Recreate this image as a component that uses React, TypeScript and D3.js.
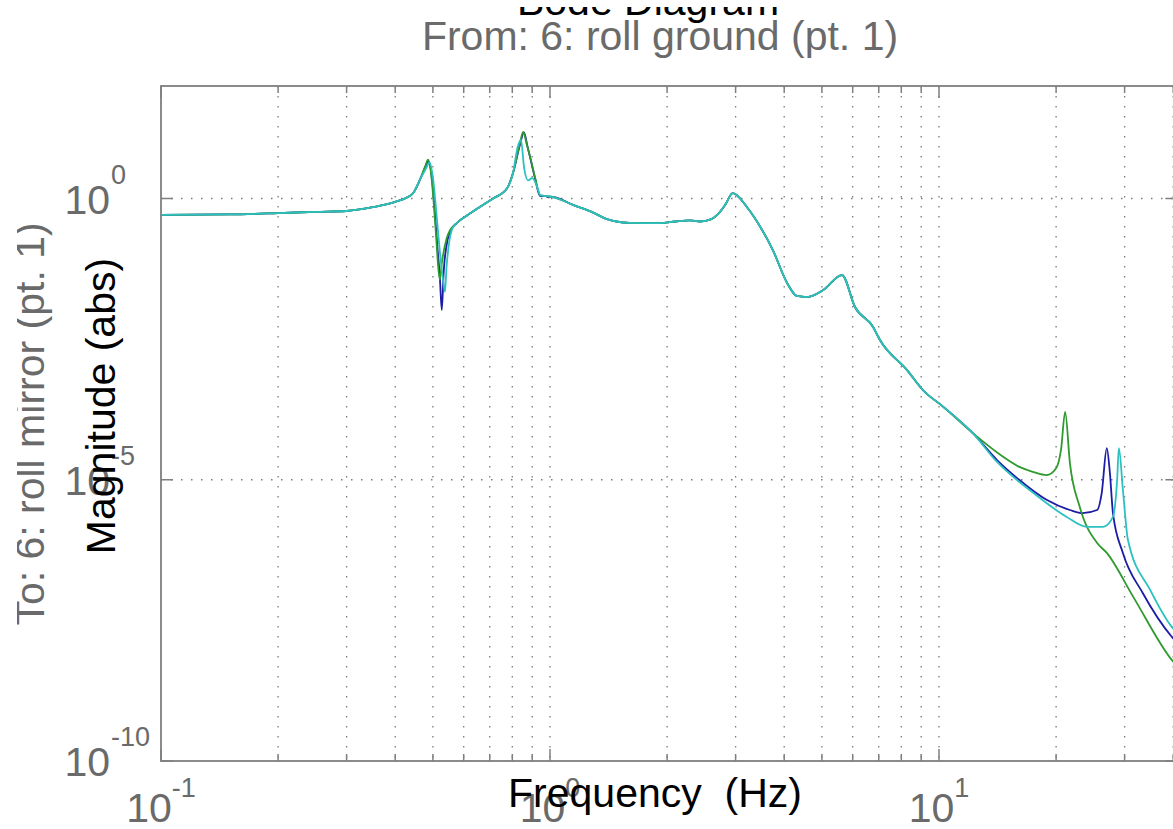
import * as d3 from 'd3';

// axis limits (Hz, abs)
const X_MIN = 0.1;
const X_MAX = 41;
const Y_MIN = 1e-10;
const Y_MAX = 1e2;

const X_TICK_VALUES = [0.1, 1, 10];
const X_TICK_EXP = ['-1', '0', '1'];
const Y_TICK_VALUES = [1e0, 1e-5, 1e-10];
const Y_TICK_EXP = ['0', '-5', '-10'];
const Y_GRID = [1e0, 1e-5];

// [frequency Hz, magnitude]
const LOW: [number, number][] = [
  [0.1, 0.51], [0.15, 0.52], [0.2, 0.55], [0.25, 0.58], [0.3, 0.6], [0.35, 0.7],
  [0.4, 0.87], [0.43, 1.05], [0.445, 1.25], [0.465, 2.3],
];

const GREEN_R1: [number, number][] = [
  [0.478, 3.8], [0.486, 4.9], [0.494, 3.0], [0.502, 0.9], [0.51, 0.2], [0.516, 0.06],
  [0.521, 0.036], [0.527, 0.07], [0.543, 0.2], [0.553, 0.27],
];
const BLUE_R1: [number, number][] = [
  [0.478, 3.6], [0.487, 4.6], [0.496, 2.6], [0.505, 0.7], [0.513, 0.15], [0.521, 0.04],
  [0.527, 0.0104], [0.533, 0.05], [0.545, 0.18], [0.556, 0.27],
];
const CYAN_R1: [number, number][] = [
  [0.48, 3.4], [0.49, 4.4], [0.5, 2.4], [0.51, 0.6], [0.52, 0.13], [0.53, 0.04],
  [0.537, 0.022], [0.542, 0.06], [0.55, 0.16], [0.562, 0.3],
];

const RISE: [number, number][] = [
  [0.577, 0.37], [0.612, 0.5], [0.661, 0.71], [0.714, 1.0], [0.775, 1.5], [0.803, 2.8],
];

const GREEN_R2: [number, number][] = [
  [0.837, 9.6], [0.853, 15.2], [0.872, 9], [0.889, 5.5], [0.915, 2.4], [0.943, 1.15],
  [0.98, 1.1], [1.018, 1.06],
];
const BLUE_R2: [number, number][] = [
  [0.837, 9], [0.857, 15], [0.875, 8.5], [0.89, 5.2], [0.915, 2.3], [0.943, 1.1],
  [0.975, 1.1], [0.99, 1.05], [1.018, 1.06],
];
const CYAN_R2: [number, number][] = [
  [0.825, 8], [0.842, 11], [0.858, 3.5], [0.878, 2.1], [0.9, 2.3], [0.93, 1.5],
  [0.943, 1.15], [0.98, 1.1], [1.018, 1.06],
];

const MID: [number, number][] = [
  [1.146, 0.77], [1.3, 0.55], [1.4, 0.43], [1.6, 0.37], [1.92, 0.365], [2.1, 0.39],
  [2.29, 0.41], [2.43, 0.39], [2.6, 0.43], [2.69, 0.51], [2.82, 0.77], [2.95, 1.25],
  [3.21, 0.7], [3.51, 0.275], [3.74, 0.121], [4.07, 0.0315], [4.31, 0.0185],
  [4.58, 0.0177], [5.04, 0.0236], [5.63, 0.0436], [6.08, 0.0118], [6.77, 0.0052],
  [7.05, 0.00305], [8.28, 8.9e-4], [9.1, 3.9e-4], [10.24, 2e-4], [12.2, 6.8e-5],
];

const GREEN_TAIL: [number, number][] = [
  [14.4, 2.75e-5], [16.1, 1.69e-5], [17.5, 1.37e-5], [18.9, 1.21e-5], [20.0, 1.6e-5],
  [20.6, 3.5e-5], [21.1, 1.6e-4], [21.7, 2e-5], [23.0, 3.3e-6], [25.5, 7.5e-7],
  [27, 5e-7], [31.6, 8.2e-8], [39.7, 6.2e-9], [42, 4e-9],
];
const BLUE_TAIL: [number, number][] = [
  [14.1, 2.24e-5], [16.1, 9.9e-6], [18.9, 4.4e-6], [21.7, 2.9e-6], [23.4, 2.56e-6],
  [25.5, 2.9e-6], [26.2, 5.8e-6], [27.0, 3.66e-5], [27.5, 1.32e-5], [28.0, 2.56e-6],
  [29.7, 5e-7], [33.4, 9.7e-8], [39.7, 1.6e-8], [42, 1.05e-8],
];
const CYAN_TAIL: [number, number][] = [
  [14.1, 2.07e-5], [17.5, 5.8e-6], [21.3, 2.18e-6], [24, 1.45e-6], [26.4, 1.45e-6],
  [28, 2.18e-6], [28.7, 9.9e-6], [29.0, 3.66e-5], [29.7, 6.6e-6], [30.6, 8.5e-7],
  [34.9, 1.1e-7], [39.7, 2.4e-8], [42, 1.6e-8],
];

const SERIES = [
  { name: 'blue', color: '#1c1ca6', pts: [...LOW, ...BLUE_R1, ...RISE, ...BLUE_R2, ...MID, ...BLUE_TAIL] },
  { name: 'green', color: '#2f9a2f', pts: [...LOW, ...GREEN_R1, ...RISE, ...GREEN_R2, ...MID, ...GREEN_TAIL] },
  { name: 'cyan', color: '#2cc0c0', pts: [...LOW, ...CYAN_R1, ...RISE, ...CYAN_R2, ...MID, ...CYAN_TAIL] },
];

const FONT = 'Liberation Sans, Arial, Helvetica, sans-serif';
const GRAY_TEXT = '#6a6a6a';
const AXIS = '#7f7f7f';

export default function App() {
  const W = 1173;
  const H = 829;
  // one decade = 389px, 0.1 Hz at the left frame
  const x = d3.scaleLog().domain([0.1, 10]).range([161, 939]);
  const y = d3.scaleLog().domain([Y_MIN, Y_MAX]).range([761, 86]);

  const left = x(X_MIN);
  const right = x(X_MAX);
  const top = y(Y_MAX);
  const bottom = y(Y_MIN);

  const xTicks = d3.scaleLog().domain([X_MIN, X_MAX]).ticks();
  const isMajor = (v: number) => Math.abs(Math.log10(v) - Math.round(Math.log10(v))) < 1e-9;

  const line = d3.line<[number, number]>()
    .x(d => x(d[0]))
    .y(d => y(d[1]))
    .curve(d3.curveMonotoneX);

  return (
    <svg width={W} height={H} style={{ position: 'absolute', left: 0, top: 0, background: '#fff' }}>
      <defs>
        <clipPath id="plotClip">
          <rect x={left} y={top} width={right - left} height={bottom - top} />
        </clipPath>
        <clipPath id="leftCut">
          <rect x={17} y={0} width={W} height={H} />
        </clipPath>
        <clipPath id="topCut">
          <rect x={0} y={7} width={W} height={H} />
        </clipPath>
      </defs>

      {/* grid */}
      <g stroke="#7a7a7a" strokeWidth={1.3} strokeDasharray="1.5,8.5">
        {xTicks.filter(v => v > X_MIN).map(v => (
          <line key={`gx${v}`} x1={x(v)} x2={x(v)} y1={top} y2={bottom} />
        ))}
        {Y_GRID.map(v => (
          <line key={`gy${v}`} x1={left} x2={right} y1={y(v)} y2={y(v)} />
        ))}
      </g>

      {/* ticks */}
      <g stroke={AXIS} strokeWidth={1.5}>
        {xTicks.map(v => {
          const len = isMajor(v) ? 12 : 7;
          return (
            <g key={`tx${v}`}>
              <line x1={x(v)} x2={x(v)} y1={bottom} y2={bottom - len} />
              <line x1={x(v)} x2={x(v)} y1={top} y2={top + len} />
            </g>
          );
        })}
        {Y_TICK_VALUES.map(v => (
          <g key={`ty${v}`}>
            <line x1={left} x2={left + 12} y1={y(v)} y2={y(v)} />
            <line x1={right} x2={right - 12} y1={y(v)} y2={y(v)} />
          </g>
        ))}
      </g>

      {/* curves */}
      <g clipPath="url(#plotClip)" fill="none" strokeWidth={1.8} strokeLinejoin="round">
        {SERIES.map(s => (
          <path key={s.name} d={line(s.pts) || ''} stroke={s.color} />
        ))}
      </g>

      {/* frame */}
      <rect x={left} y={top} width={right - left} height={bottom - top}
        fill="none" stroke={AXIS} strokeWidth={1.8} />

      {/* x tick labels */}
      {X_TICK_VALUES.map((v, i) => (
        <text key={`xl${v}`} x={x(v)} y={822} textAnchor="middle"
          fontFamily={FONT} fontSize={41} fill={GRAY_TEXT}>
          10<tspan dy={-25} fontSize={27}>{X_TICK_EXP[i]}</tspan>
        </text>
      ))}

      {/* y tick labels */}
      {Y_TICK_VALUES.map((v, i) => (
        <g key={`yl${v}`} fontFamily={FONT} fill={GRAY_TEXT}>
          <text x={110} y={y(v) + 15} textAnchor="end" fontSize={41}>10</text>
          <text x={111} y={y(v) - 15} fontSize={27}>{Y_TICK_EXP[i]}</text>
        </g>
      ))}

      {/* titles and labels */}
      <g clipPath="url(#topCut)">
        <text x={648} y={15} textAnchor="middle" fontFamily={FONT} fontSize={41} fill="#000">
          Bode Diagram
        </text>
      </g>
      <text x={660} y={50} textAnchor="middle" fontFamily={FONT} fontSize={41} fill={GRAY_TEXT}>
        From: 6: roll ground (pt. 1)
      </text>
      <g clipPath="url(#leftCut)">
        <text transform="translate(44,424) rotate(-90)" textAnchor="middle"
          fontFamily={FONT} fontSize={41} fill={GRAY_TEXT}>
          To: 6: roll mirror (pt. 1)
        </text>
      </g>
      <text transform="translate(115,406) rotate(-90)" textAnchor="middle"
        fontFamily={FONT} fontSize={41} fill="#000">
        Magnitude (abs)
      </text>
      <text x={655} y={807} textAnchor="middle" fontFamily={FONT} fontSize={41} fill="#000"
        style={{ whiteSpace: 'pre' }}>
        {'Frequency  (Hz)'}
      </text>
    </svg>
  );
}
